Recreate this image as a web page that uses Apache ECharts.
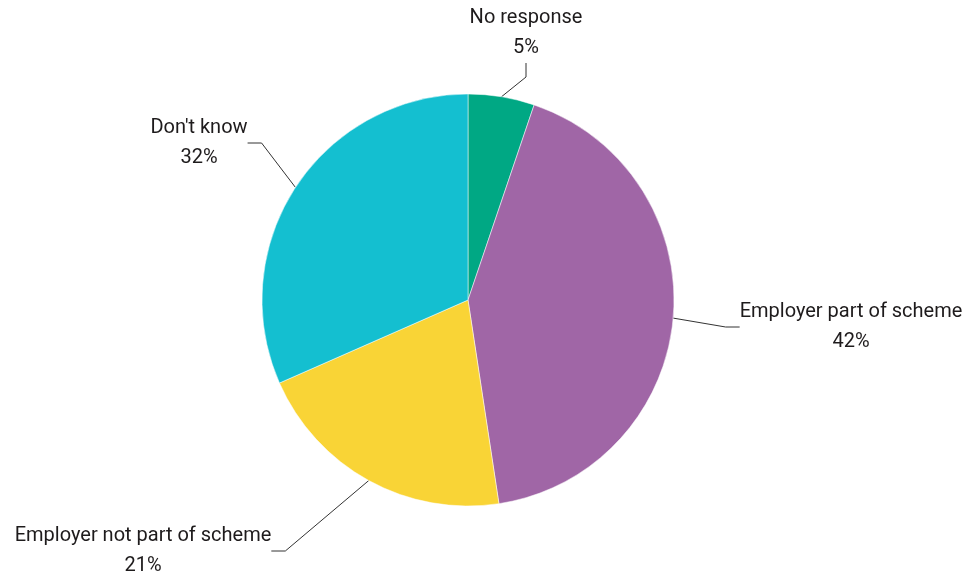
<!DOCTYPE html>
<html>
<head>
<meta charset="utf-8">
<script src="https://cdn.jsdelivr.net/npm/echarts@6/dist/echarts.min.js"></script>
<style>
html,body{margin:0;padding:0;background:#fff;}
#chart{width:970px;height:583px;}
</style>
</head>
<body>
<div id="chart"></div>
<script>
var categories = ["No response", "Employer part of scheme", "Employer not part of scheme", "Don't know"];
var values = [5.2, 42.4, 20.8, 31.6];
var colors = ["#00A884", "#A066A6", "#F9D436", "#14BFD0"];

var labelPos = [
  {x: 526, y: 33},
  {x: 851, y: 327},
  {x: 143, y: 551},
  {x: 199, y: 143}
];

var chart = echarts.init(document.getElementById('chart'), null, {renderer: 'canvas'});
chart.setOption({
  animation: false,
  backgroundColor: '#ffffff',
  series: [{
    type: 'pie',
    center: [468, 300],
    radius: [0, 206],
    startAngle: 90,
    clockwise: true,
    percentPrecision: 0,
    data: categories.map(function (c, i) {
      return {name: c, value: values[i], itemStyle: {color: colors[i]}};
    }),
    itemStyle: {borderColor: '#ffffff', borderWidth: 0.5},
    label: {
      show: true,
      formatter: '{b}\n{d}%',
      color: '#1e1b1c',
      fontFamily: 'Roboto',
      fontSize: 20,
      lineHeight: 30,
      align: 'center'
    },
    labelLine: {
      show: true,
      length: 20,
      length2: 14,
      lineStyle: {color: '#333333', width: 1}
    },
    labelLayout: function (p) {
      var pos = labelPos[p.dataIndex];
      return {x: pos.x, y: pos.y, align: 'center', verticalAlign: 'middle'};
    }
  }]
});
</script>
</body>
</html>
